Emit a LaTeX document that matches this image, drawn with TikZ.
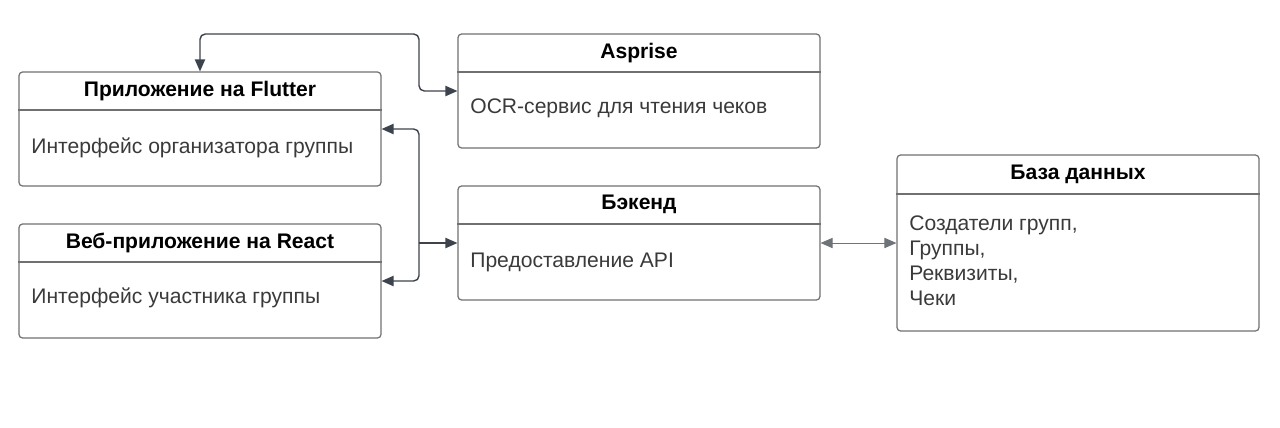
\documentclass[tikz,border=0pt]{standalone}
\usepackage{fontspec}
\setmainfont{Liberation Sans}
\usetikzlibrary{arrows.meta,positioning}
\definecolor{edge}{HTML}{3D434C}
\definecolor{frame}{HTML}{707070}
\definecolor{bodytext}{HTML}{3A3A3A}
\definecolor{thinedge}{HTML}{6E737A}
\begin{document}
\begin{tikzpicture}[x=0.02cm,y=-0.02cm,
  >={Triangle[length=6.8pt,width=5.8pt]},
  box/.style={draw=frame, line width=0.7pt, rounded corners=2pt, minimum width=7.24cm, minimum height=2.28cm, inner sep=0pt},
  head/.style={font=\fontsize{12}{14}\selectfont\bfseries, minimum height=0.76cm, inner sep=0pt, anchor=north},
  body/.style={text=bodytext, font=\fontsize{12}{14.2}\selectfont, anchor=west, align=left, inner sep=0pt},
  link/.style={draw=edge, line width=0.8pt, rounded corners=3pt},
  dblink/.style={draw=thinedge, line width=0.5pt}]
\useasboundingbox (0,0) rectangle (1280,427);
% boxes
\node[box] (flutter) at (200,129) {};
\node[head] (flutterH) at (flutter.north) {Приложение на Flutter};
\draw[frame, line width=0.7pt] (flutter.west |- flutterH.south) -- (flutter.east |- flutterH.south);
\node[body] (flutterB) at (31,148) {Интерфейс организатора группы};
\node[box] (react) at (200,281) {};
\node[head] (reactH) at (react.north) {Веб-приложение на React};
\draw[frame, line width=0.7pt] (react.west |- reactH.south) -- (react.east |- reactH.south);
\node[body] (reactB) at (31,298) {Интерфейс участника группы};
\node[box] (asprise) at (639,91) {};
\node[head] (aspriseH) at (asprise.north) {Asprise};
\draw[frame, line width=0.7pt] (asprise.west |- aspriseH.south) -- (asprise.east |- aspriseH.south);
\node[body] (aspriseB) at (470,108) {OCR-сервис для чтения чеков};
\node[box] (backend) at (639,243) {};
\node[head] (backendH) at (backend.north) {Бэкенд};
\draw[frame, line width=0.7pt] (backend.west |- backendH.south) -- (backend.east |- backendH.south);
\node[body] (backendB) at (470,262) {Предоставление API};
\node[box, minimum height=3.52cm] (db) at (1078,243) {};
\node[head, minimum height=0.78cm] (dbH) at (db.north) {База данных};
\draw[frame, line width=0.7pt] (db.west |- dbH.south) -- (db.east |- dbH.south);
\node[body] (dbB) at (909,260.5) {Создатели групп,\\Группы,\\Реквизиты,\\Чеки};
% connectors
\coordinate (fork) at (419,243);
\draw[link, <->] (asprise.west) -- (419,91) |- (200,34) -- (flutter.north);
\draw[link, ->] (fork) |- (flutter.east);
\draw[link, ->] (fork) |- (react.east);
\draw[link, ->] (fork) -- (backend.west);
\draw[dblink, <->] (backend.east) -- (db.west);
\end{tikzpicture}
\end{document}
